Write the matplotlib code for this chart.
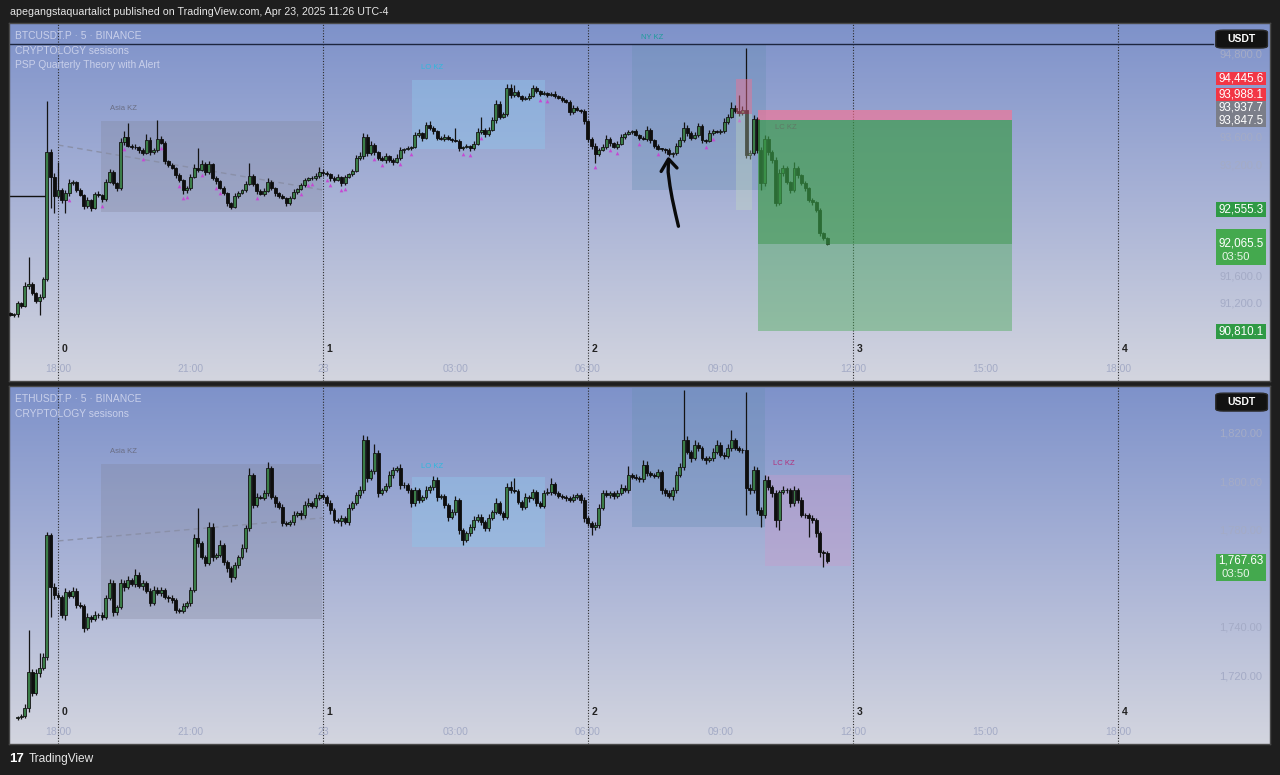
import numpy as np
import matplotlib.pyplot as plt
from matplotlib.colors import LinearSegmentedColormap
from matplotlib.patches import Rectangle, FancyBboxPatch

plt.rcParams['font.family'] = ['Liberation Sans', 'DejaVu Sans']

# ---------------- data (5 min bars, bar 0 = Apr 22 18:00) ----------------
# BTCUSDT.P, bars -13 .. 209
btc_start = -13
btc_first_open = 91070
btc_close = [
    91041, 91056, 91214, 91171, 91459, 91488, 91356, 91243, 91301, 91560,
    93390, 93030, 92756, 92843, 92699, 92800, 92944, 92958, 92843, 92771,
    92612, 92699, 92583, 92785, 92771, 92713, 92958, 93102, 92944, 92872,
    93534, 93606, 93477, 93462, 93455, 93419, 93376, 93563, 93390, 93419,
    93578, 93520, 93261, 93203, 93160, 93059, 92987, 92843, 92872, 93030,
    93160, 93131, 93217, 93102, 93217, 93016, 92972, 92872, 92800, 92655,
    92598, 92756, 92800, 92843, 92929, 93044, 92929, 92828, 92785, 92828,
    92958, 92872, 92800, 92756, 92727, 92655, 92727, 92814, 92857, 92915,
    92987, 93016, 93010, 93044, 93102, 93088, 93073, 93016, 92987, 93030,
    92944, 93030, 93073, 93117, 93304, 93333, 93606, 93376, 93491, 93390,
    93304, 93275, 93333, 93275, 93246, 93304, 93419, 93434, 93448, 93462,
    93635, 93664, 93592, 93779, 93736, 93693, 93592, 93578, 93606, 93578,
    93563, 93549, 93448, 93462, 93477, 93448, 93506, 93679, 93707, 93650,
    93707, 93851, 94082, 93895, 93938, 94313, 94212, 94255, 94197, 94154,
    94168, 94197, 94313, 94270, 94226, 94240, 94212, 94226, 94197, 94168,
    94140, 94111, 93967, 94024, 93996, 93981, 93837, 93578, 93477, 93362,
    93419, 93462, 93578, 93520, 93462, 93506, 93606, 93650, 93679, 93693,
    93635, 93592, 93578, 93707, 93563, 93477, 93434, 93430, 93419, 93362,
    93376, 93477, 93563, 93736, 93664, 93592, 93635, 93765, 93563, 93549,
    93664, 93693, 93679, 93690, 93823, 93895, 94024, 93981, 93952, 93996,
    93347, 93376, 93866, 93419, 92944, 93578, 93390, 93275, 92655, 93088,
    93160, 92958, 92843, 93160, 93059, 92944, 92872, 92699, 92670, 92555,
    92223, 92151, 92065.5]
btc_wick_up = [
    15, 20, 25, 20, 60, 390, 30, 20, 40, 30,
    736, 40, 60, 403, 30, 40, 50, 30, 20, 30,
    20, 40, 20, 30, 40, 20, 50, 40, 30, 20,
    60, 80, 200, 30, 40, 20, 30, 90, 40, 30,
    273, 40, 30, 20, 30, 20, 30, 20, 30, 40,
    50, 288, 60, 30, 40, 20, 30, 20, 30, 20,
    20, 40, 30, 20, 40, 188, 30, 20, 30, 40,
    60, 30, 20, 20, 30, 20, 30, 40, 20, 30,
    30, 20, 30, 40, 70, 50, 30, 20, 30, 40,
    20, 30, 20, 30, 40, 50, 60, 40, 60, 30,
    20, 30, 40, 20, 30, 60, 40, 20, 30, 20,
    50, 60, 20, 40, 60, 30, 20, 30, 40, 30,
    20, 173, 30, 20, 30, 20, 40, 50, 188, 30,
    40, 50, 58, 40, 30, 60, 50, 101, 30, 20,
    30, 40, 40, 30, 20, 30, 20, 30, 40, 20,
    30, 20, 30, 40, 30, 20, 30, 20, 30, 40,
    30, 40, 50, 30, 20, 40, 50, 30, 30, 20,
    30, 20, 30, 60, 30, 20, 30, 20, 20, 30,
    20, 40, 50, 80, 40, 30, 50, 40, 30, 20,
    40, 30, 20, 30, 60, 40, 87, 40, 231, 50,
    893, 40, 60, 30, 40, 60, 40, 30, 50, 60,
    40, 30, 20, 80, 30, 20, 30, 20, 30, 20,
    30, 20, 20]
btc_wick_dn = [
    20, 30, 40, 30, 20, 40, 30, 30, 202, 30,
    30, 447, 245, 30, 40, 188, 40, 30, 30, 20,
    40, 30, 50, 20, 30, 40, 30, 20, 30, 40,
    30, 40, 20, 30, 20, 40, 30, 20, 40, 30,
    30, 20, 40, 30, 20, 40, 30, 60, 40, 30,
    20, 30, 20, 40, 30, 30, 40, 20, 30, 40,
    30, 20, 30, 20, 30, 20, 30, 40, 20, 30,
    20, 30, 40, 30, 20, 40, 30, 20, 30, 20,
    30, 20, 30, 20, 30, 40, 30, 40, 30, 20,
    50, 30, 20, 30, 20, 30, 40, 50, 30, 40,
    30, 20, 40, 30, 40, 20, 30, 40, 20, 30,
    20, 30, 40, 20, 30, 40, 30, 20, 30, 20,
    30, 20, 40, 30, 20, 40, 30, 20, 30, 40,
    30, 20, 40, 30, 20, 30, 40, 30, 20, 30,
    20, 30, 20, 30, 30, 20, 30, 20, 30, 20,
    30, 20, 40, 30, 20, 30, 40, 50, 40, 130,
    30, 20, 30, 40, 20, 30, 20, 30, 20, 30,
    20, 30, 20, 30, 40, 30, 20, 30, 40, 30,
    50, 30, 20, 30, 40, 30, 20, 30, 40, 30,
    20, 30, 20, 30, 20, 30, 20, 30, 40, 30,
    43, 60, 30, 40, 100, 40, 50, 40, 40, 30,
    40, 30, 50, 30, 40, 30, 40, 30, 40, 30,
    40, 30, 20]
btc_psp_bars = [3, 12, 18, 23, 28, 33, 34, 35, 39, 43, 44, 54, 66, 68, 69, 73, 74,
                77, 78, 86, 88, 93, 96, 110, 112, 115, 131, 133, 146, 150, 152,
                158, 163, 176, 178, 185]

# ETHUSDT.P, bars -11 .. 209
eth_start = -11
eth_first_open = 1702.5
eth_close = [
    1703.1, 1703.5, 1706.8, 1721.7, 1713.0, 1721.2, 1723.3, 1727.8, 1778.1, 1756.7,
    1753.4, 1752.6, 1745.2, 1754.6, 1753.1, 1755.1, 1749.3, 1748.9, 1739.8, 1744.3,
    1743.5, 1745.2, 1745.0, 1744.3, 1752.2, 1758.4, 1746.4, 1748.5, 1758.4, 1756.7,
    1759.6, 1757.9, 1761.7, 1757.1, 1758.2, 1755.1, 1750.1, 1755.5, 1754.2, 1755.3,
    1752.6, 1752.2, 1751.3, 1747.2, 1746.8, 1748.9, 1750.1, 1755.5, 1776.9, 1774.8,
    1769.1, 1766.6, 1781.4, 1769.1, 1769.9, 1774.0, 1767.0, 1764.5, 1760.8, 1765.8,
    1769.1, 1772.8, 1781.0, 1802.9, 1790.5, 1793.8, 1793.6, 1795.5, 1805.8, 1793.8,
    1791.3, 1789.7, 1783.1, 1782.7, 1783.5, 1786.4, 1787.2, 1786.2, 1790.5, 1791.3,
    1790.3, 1793.4, 1794.6, 1793.8, 1791.3, 1788.5, 1784.3, 1784.1, 1785.2, 1783.5,
    1789.3, 1791.3, 1794.6, 1796.7, 1817.3, 1801.7, 1804.5, 1812.0, 1795.5, 1796.7,
    1798.4, 1802.9, 1805.0, 1805.8, 1798.8, 1798.6, 1796.7, 1791.3, 1796.7, 1792.6,
    1793.8, 1796.7, 1797.9, 1800.8, 1793.8, 1794.2, 1790.5, 1785.6, 1787.6, 1792.6,
    1780.2, 1776.1, 1779.0, 1781.4, 1784.3, 1785.6, 1783.5, 1781.0, 1785.2, 1787.6,
    1791.3, 1787.2, 1785.6, 1797.9, 1796.7, 1796.3, 1791.8, 1789.7, 1793.8, 1793.4,
    1795.9, 1791.3, 1790.1, 1795.5, 1795.9, 1799.2, 1795.5, 1794.2, 1793.8, 1793.4,
    1792.6, 1793.8, 1794.6, 1792.6, 1785.2, 1783.1, 1781.4, 1782.3, 1789.3, 1795.5,
    1794.6, 1795.3, 1794.2, 1795.5, 1797.5, 1796.7, 1802.9, 1802.1, 1801.7, 1801.2,
    1807.0, 1803.7, 1802.9, 1802.5, 1804.1, 1796.7, 1795.5, 1794.2, 1796.7, 1802.9,
    1806.2, 1817.3, 1812.4, 1809.9, 1815.3, 1814.0, 1809.9, 1809.1, 1809.7, 1812.4,
    1815.3, 1811.1, 1810.7, 1814.0, 1817.3, 1814.0, 1813.2, 1813.0, 1797.5, 1796.7,
    1805.0, 1788.5, 1786.4, 1800.8, 1797.9, 1795.5, 1784.3, 1795.9, 1796.7, 1796.5,
    1791.3, 1796.7, 1792.6, 1786.4, 1786.2, 1785.2, 1784.3, 1779.0, 1771.1, 1770.7,
    1767.63]
eth_wick_up = [
    0.5, 0.8, 1.5, 17.3, 1.0, 1.5, 6.2, 1.5, 1.2, 1.0,
    1.5, 1.2, 1.0, 1.5, 1.0, 1.8, 1.0, 1.2, 0.8, 1.5,
    1.0, 1.5, 0.8, 1.2, 1.0, 1.5, 1.2, 0.8, 1.8, 1.0,
    1.5, 1.0, 2.5, 1.0, 1.2, 0.8, 1.0, 1.5, 1.0, 1.2,
    0.8, 1.0, 1.2, 0.8, 1.0, 1.2, 0.8, 1.0, 1.5, 12.4,
    1.0, 0.8, 2.1, 1.5, 1.0, 2.0, 1.0, 0.8, 1.0, 1.2,
    1.0, 1.5, 1.2, 3.0, 1.0, 1.5, 1.0, 1.2, 2.5, 1.0,
    0.8, 1.0, 1.2, 0.8, 1.0, 1.5, 1.0, 1.2, 1.5, 2.0,
    1.0, 1.5, 1.2, 0.8, 1.0, 1.2, 0.8, 1.0, 1.2, 0.8,
    1.5, 1.0, 1.2, 1.5, 2.0, 1.5, 1.0, 3.5, 1.0, 0.8,
    1.0, 1.5, 1.2, 1.0, 1.5, 1.0, 0.8, 1.0, 1.2, 1.0,
    0.8, 1.5, 1.0, 1.5, 1.2, 1.0, 0.8, 1.0, 1.2, 1.5,
    1.0, 0.8, 1.0, 1.2, 1.5, 1.0, 1.2, 0.8, 1.5, 1.0,
    2.0, 1.0, 0.8, 1.5, 2.5, 5.0, 1.0, 0.8, 1.5, 1.0,
    1.2, 0.8, 1.0, 1.2, 1.5, 2.5, 1.0, 0.8, 1.0, 0.8,
    1.0, 1.2, 0.8, 1.0, 1.2, 0.8, 1.0, 1.2, 1.5, 1.0,
    1.2, 1.0, 0.8, 1.0, 1.5, 1.2, 3.5, 1.0, 1.2, 0.8,
    2.0, 1.5, 1.0, 0.8, 1.2, 1.0, 0.8, 1.0, 1.2, 1.5,
    1.5, 20.6, 1.5, 1.0, 2.0, 1.2, 1.0, 0.8, 1.0, 1.5,
    2.0, 1.0, 1.2, 1.5, 4.1, 1.0, 0.8, 1.0, 24.1, 1.5,
    1.5, 1.0, 1.2, 2.0, 1.5, 1.0, 1.2, 1.0, 1.5, 1.0,
    1.2, 1.5, 1.0, 1.2, 0.8, 1.0, 1.2, 1.0, 0.8, 1.0,
    0.8]
eth_wick_dn = [
    0.5, 0.8, 1.0, 1.5, 1.2, 1.0, 1.5, 1.0, 1.2, 12.4,
    1.5, 1.0, 1.2, 2.1, 1.0, 0.8, 1.2, 1.0, 1.5, 1.0,
    1.2, 0.8, 1.0, 1.2, 0.8, 1.0, 1.5, 1.2, 1.0, 1.5,
    1.0, 0.8, 1.2, 1.0, 1.5, 1.0, 1.2, 0.8, 1.0, 1.2,
    1.0, 1.5, 1.0, 1.2, 1.0, 0.8, 1.0, 1.2, 1.0, 1.5,
    1.0, 1.2, 1.0, 1.5, 0.8, 1.0, 1.2, 1.5, 2.0, 1.0,
    1.2, 1.0, 1.5, 1.0, 1.2, 1.0, 0.8, 1.0, 1.2, 1.0,
    1.5, 1.0, 1.2, 1.0, 0.8, 1.2, 1.0, 1.5, 1.0, 0.8,
    1.2, 1.0, 0.8, 1.0, 1.2, 1.5, 1.0, 1.2, 2.1, 1.0,
    1.2, 1.0, 0.8, 1.0, 1.2, 1.5, 1.0, 1.2, 1.5, 1.0,
    0.8, 1.0, 1.2, 1.0, 1.5, 1.0, 1.2, 1.5, 1.0, 1.2,
    1.0, 0.8, 1.2, 1.0, 1.5, 1.0, 1.2, 1.5, 1.0, 1.2,
    1.5, 2.0, 1.0, 1.2, 1.0, 0.8, 1.2, 1.0, 1.2, 1.0,
    0.8, 1.0, 1.2, 1.0, 1.2, 0.8, 1.0, 1.2, 1.0, 1.5,
    1.0, 1.2, 1.0, 0.8, 1.0, 1.2, 1.0, 0.8, 1.0, 1.2,
    1.0, 0.8, 1.0, 1.2, 1.5, 1.2, 3.3, 1.0, 1.2, 1.0,
    0.8, 1.0, 1.2, 1.0, 0.8, 1.0, 1.2, 1.0, 0.8, 1.0,
    1.0, 1.2, 1.0, 0.8, 1.0, 1.5, 1.2, 1.0, 1.5, 1.2,
    1.0, 1.2, 1.0, 1.5, 1.0, 1.2, 1.0, 1.5, 1.0, 1.2,
    1.0, 0.8, 1.2, 1.0, 1.2, 1.0, 0.8, 1.0, 11.1, 1.5,
    1.2, 1.5, 5.0, 1.2, 1.0, 1.5, 2.9, 4.1, 1.0, 1.2,
    1.5, 1.0, 1.2, 1.0, 1.2, 7.9, 1.2, 1.5, 2.0, 5.7,
    1.0]

# time axis
time_bars = [0, 36, 72, 108, 144, 180, 216, 252, 288]
time_labels = ['18:00', '21:00', '23', '03:00', '06:00', '09:00', '12:00', '15:00', '18:00']
session_bars = [0, 72, 144, 216, 288]
session_nums = ['0', '1', '2', '3', '4']

# kill zones: (name, start bar, end bar, top, bottom)
btc_zones = [('Asia KZ', 11.7, 71.7, 93837, 92526),
             ('LO KZ', 96.3, 132.4, 94428, 93434),
             ('NY KZ', 156.0, 192.4, 94952, 92843)]
eth_zones = [('Asia KZ', 11.7, 71.7, 1807.4, 1743.5),
             ('LO KZ', 96.3, 132.4, 1802.1, 1773.2),
             ('NY KZ', 156.0, 192.0, 1838.8, 1781.4),
             ('LC KZ', 192.0, 215.5, 1802.9, 1765.4)]

# short positions (start bar, end bar, stop, entry, target)
pos_small = (184.2, 188.6, 94445.6, 93937.7, 92555.3)
pos_main = (190.2, 259.2, 93988.1, 93847.5, 90810.1)
btc_last = 92065.5
eth_last = 1767.63
countdown = '03:50'

btc_ticks = [94800, 93600, 93200, 91600, 91200]
eth_ticks = [1820, 1800, 1780, 1740, 1720]

# ---------------- layout ----------------
W, H = 1280, 775
PX0, PX1 = 9, 1270
BAR_PX, BAR0_PX = 3.68, 58
XLIM = ((PX0 - BAR0_PX) / BAR_PX, (PX1 - BAR0_PX) / BAR_PX)
PANEL_H = 358

fig = plt.figure(figsize=(12.8, 7.75), dpi=100, facecolor='#1e1e1e')
bg_cmap = LinearSegmentedColormap.from_list('tvbg', ['#7e92ca', '#a9b3d6', '#d3d5df'])

def add_panel(top_px, ylim):
    ax = fig.add_axes([PX0 / W, 1 - (top_px + PANEL_H) / H, (PX1 - PX0) / W, PANEL_H / H])
    grad = np.linspace(0, 1, 256)[:, None]
    ax.imshow(grad, extent=[XLIM[0], XLIM[1], ylim[0], ylim[1]], aspect='auto', cmap=bg_cmap, zorder=0)
    ax.set_xlim(XLIM)
    ax.set_ylim(ylim)
    ax.set_xticks([])
    ax.set_yticks([])
    for s in ax.spines.values():
        s.set_color('#4a4a4a')
        s.set_linewidth(1)
    xt = ax.get_xaxis_transform()
    for b, n in zip(session_bars, session_nums):
        ax.axvline(b, color='#2b2b2b', lw=0.8, ls=(0, (1, 1.5)), zorder=2)
        ax.text(b + 1.0, 0.09, n, transform=xt, fontsize=7.5, color='#222222',
                fontweight='bold', va='center', ha='left', zorder=6)
    for b, t in zip(time_bars, time_labels):
        ax.text(b, 0.034, t, transform=xt, fontsize=7.5, color='#a4abc6', ha='center', va='center')
    return ax

def draw_candles(ax, start, first_open, closes, wup, wdn):
    closes = np.asarray(closes, float)
    opens = np.concatenate([[first_open], closes[:-1]])
    idx = np.arange(start, start + len(closes))
    highs = np.maximum(opens, closes) + np.asarray(wup)
    lows = np.minimum(opens, closes) - np.asarray(wdn)
    ax.vlines(idx, lows, highs, color='#141414', lw=0.9, zorder=3)
    k = np.diff(ax.get_ylim())[0] / PANEL_H
    h = np.maximum(np.abs(closes - opens), 0.8 * k)
    bot = np.minimum(opens, closes)
    up = closes >= opens
    ax.bar(idx[up], h[up], bottom=bot[up], width=0.8, color='#3b7d48',
           edgecolor='#141414', linewidth=0.6, zorder=4)
    ax.bar(idx[~up], h[~up], bottom=bot[~up], width=0.8, color='#0e0e0e',
           edgecolor='#0e0e0e', linewidth=0.6, zorder=4)
    return idx, lows

def tag(ax, y, text, color, above=6.5, below=6.5, sub=None):
    k = np.diff(ax.get_ylim())[0] / PANEL_H
    yt = ax.get_yaxis_transform()
    ax.add_patch(Rectangle((0.9572, y - below * k), 0.0396, (above + below) * k, transform=yt,
                           facecolor=color, edgecolor='none', zorder=8))
    ax.text(0.977, y, text, transform=yt, ha='center', va='center', color='white',
            fontsize=8.4, zorder=9)
    if sub:
        ax.text(0.9615, y - 13 * k, sub, transform=yt, ha='left', va='center',
                color='#e8f5e8', fontsize=8.2, zorder=9)

def usdt_box(ax):
    ax.add_patch(FancyBboxPatch((0.959, 0.932), 0.037, 0.046, boxstyle='round,pad=0.002,rounding_size=0.006',
                                transform=ax.transAxes, facecolor='#121212', edgecolor='#2a2a2a', zorder=9))
    ax.text(0.9775, 0.955, 'USDT', transform=ax.transAxes, ha='center', va='center',
            color='white', fontsize=7.5, fontweight='bold', zorder=10)

def axis_ticks(ax, ticks, fmt):
    yt = ax.get_yaxis_transform()
    for t in ticks:
        ax.text(0.977, t, fmt.format(t), transform=yt, ha='center', va='center',
                color='#a4abc6', fontsize=8, zorder=5)

def zones(ax, zlist, label_y):
    styles = {'Asia KZ': ('#80849a', 0.30, '#6a6e84'),
              'LO KZ': ('#90c4ea', 0.45, '#2fb8dc'),
              'NY KZ': ('#6a90b4', 0.35, '#1f9c9c'),
              'LC KZ': ('#c79ccc', 0.40, '#b0307c')}
    for name, b0, b1, top, bot in zlist:
        fc, al, tc = styles[name]
        ax.add_patch(Rectangle((b0, bot), b1 - b0, top - bot, facecolor=fc, alpha=al,
                               edgecolor='none', zorder=1))
        if name in label_y:
            ax.text(b0 + 2.3, label_y[name], name, fontsize=5.5, color=tc, va='center', zorder=6)

legend_kw = dict(fontsize=7.4, color='#c8cfea', va='center')

# ---------------- BTC panel ----------------
ax1 = add_panel(23, (90090, 95249))
ax1.text(0.005, 0.964, 'BTCUSDT.P · 5 · BINANCE', transform=ax1.transAxes, **legend_kw)
ax1.text(0.005, 0.922, 'CRYPTOLOGY sesisons', transform=ax1.transAxes, **legend_kw)
ax1.text(0.005, 0.883, 'PSP Quarterly Theory with Alert', transform=ax1.transAxes, **legend_kw)

zones(ax1, btc_zones, {'Asia KZ': 94024, 'LO KZ': 94601, 'NY KZ': 95047})
ax1.plot([0, 72], [93491, 92843], color='#8a90a8', lw=1, ls=(0, (4, 3)), zorder=2)
ax1.plot([XLIM[0], 313.9], [94947, 94947], color='#1d2640', lw=1, zorder=2)
ax1.plot([XLIM[0], -3.3], [92756, 92756], color='#111111', lw=1, zorder=2)

idx, lows = draw_candles(ax1, btc_start, btc_first_open, btc_close, btc_wick_up, btc_wick_dn)
k1 = np.diff(ax1.get_ylim())[0] / PANEL_H
psp = np.array(btc_psp_bars)
ax1.scatter(psp, lows[psp - btc_start] - 4 * k1, s=7, marker='^', color='#c54ad2', zorder=5, linewidths=0)

# positions (drawn over the candles)
b0, b1, stop, entry, target = pos_small
ax1.add_patch(Rectangle((b0, entry), b1 - b0, stop - entry, facecolor='#f2708f', alpha=0.45, edgecolor='none', zorder=5))
ax1.add_patch(Rectangle((b0, target), b1 - b0, entry - target, facecolor='#c5dcc0', alpha=0.35, edgecolor='none', zorder=5))
b0, b1, stop, entry, target = pos_main
ax1.add_patch(Rectangle((b0, entry), b1 - b0, stop - entry, facecolor='#ff6f8f', alpha=0.6, edgecolor='none', zorder=5))
ax1.add_patch(Rectangle((b0, btc_last), b1 - b0, entry - btc_last, facecolor='#3a9a48', alpha=0.68, edgecolor='none', zorder=5))
ax1.add_patch(Rectangle((b0, target), b1 - b0, btc_last - target, facecolor='#4caa5a', alpha=0.45, edgecolor='none', zorder=5))
ax1.text(194.8, 93750, 'LC KZ', fontsize=5.5, color='#5f7a66', va='center', zorder=6)

# hand drawn arrow
arrow_path = [(168.6, 92320), (167.8, 92500), (166.9, 92720), (166.3, 92900), (165.8, 93100), (165.9, 93280)]
ax1.plot(*zip(*arrow_path), color='#0a0a0a', lw=2.4, solid_capstyle='round', zorder=7)
ax1.plot([163.9, 165.9, 168.2], [93110, 93290, 93160], color='#0a0a0a', lw=2.4,
         solid_capstyle='round', solid_joinstyle='round', zorder=7)

# price scale
axis_ticks(ax1, btc_ticks, '{:,.1f}')
usdt_box(ax1)
stack = [(93847.5, '#7b7e89'), (93937.7, '#7b7e89'), (93988.1, '#f23645'), (94445.6, '#f23645')]
prev = None
for val, col in stack:
    pos = val if prev is None else max(val, prev + 13 * k1)
    tag(ax1, pos, f'{val:,.1f}', col)
    prev = pos
tag(ax1, pos_small[4], f'{pos_small[4]:,.1f}', '#2f9a45', 7.5, 7.5)
tag(ax1, pos_main[4], f'{pos_main[4]:,.1f}', '#2f9a45', 7.5, 7.5)
tag(ax1, btc_last, f'{btc_last:,.1f}', '#44a94e', 15, 21, sub=countdown)

# ---------------- ETH panel ----------------
ax2 = add_panel(386, (1691.96, 1839.59))
ax2.text(0.005, 0.964, 'ETHUSDT.P · 5 · BINANCE', transform=ax2.transAxes, **legend_kw)
ax2.text(0.005, 0.922, 'CRYPTOLOGY sesisons', transform=ax2.transAxes, **legend_kw)

zones(ax2, eth_zones, {'Asia KZ': 1812.4, 'LO KZ': 1806.6, 'LC KZ': 1807.8})
ax2.plot([0, 72], [1775.7, 1785.2], color='#8a90a8', lw=1, ls=(0, (4, 3)), zorder=2)
draw_candles(ax2, eth_start, eth_first_open, eth_close, eth_wick_up, eth_wick_dn)

axis_ticks(ax2, eth_ticks, '{:,.2f}')
usdt_box(ax2)
tag(ax2, eth_last, f'{eth_last:,.2f}', '#44a94e', 6.5, 20, sub=countdown)

# ---------------- header / footer ----------------
fig.text(10 / W, 1 - 12 / H, 'apegangstaquartalict published on TradingView.com, Apr 23, 2025 11:26 UTC-4',
         color='#e6e6e6', fontsize=7.7, va='center', ha='left')
fig.text(9 / W, 1 - 759 / H, '17', color='white', fontsize=9.5, fontweight='heavy', va='center', ha='left')
fig.text(29 / W, 1 - 759 / H, 'TradingView', color='#e6e6e6', fontsize=8.6, va='center', ha='left')

fig.savefig('out.png', dpi=100, facecolor=fig.get_facecolor())
